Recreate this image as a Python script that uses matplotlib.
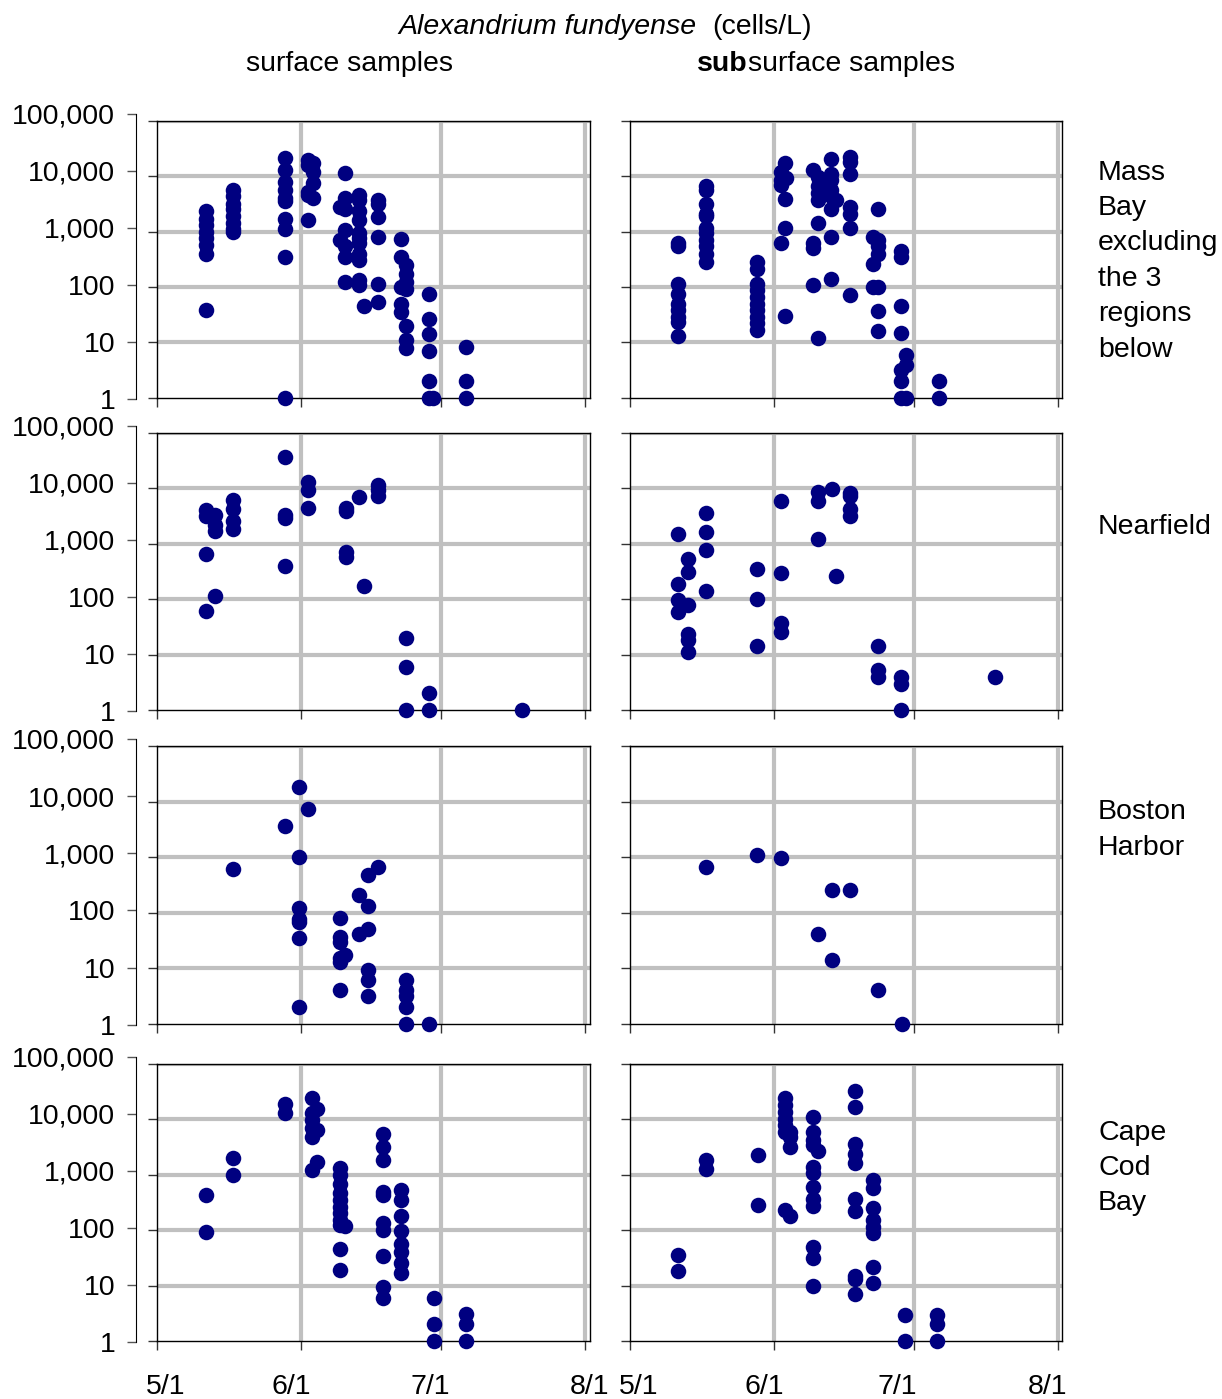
import numpy as np
import matplotlib
matplotlib.use("Agg")
import matplotlib.pyplot as plt
import matplotlib.transforms as mtransforms
from matplotlib.ticker import FixedLocator, NullLocator

plt.rcParams['font.family'] = ['Liberation Sans', 'DejaVu Sans']

# days after 5/1 for each sampling date, and cells/L for the samples taken that day
MB_SURF_DAYS = [10.5, 16.3, 27.5, 32.5, 33.5, 39.4, 40.4, 43.4, 44.4, 47.5, 52.5, 53.5, 58.5, 59.3, 66.5]
MB_SURF = [
    [2300, 1700, 1300, 1000, 760, 580, 400, 38],
    [5600, 4300, 3200, 2500, 1900, 1400, 1100, 1000],
    [21000, 13000, 7900, 5600, 4000, 3500, 1700, 1100, 350, 1],
    [19500, 16000, 5200, 4600, 1600],
    [17000, 12000, 7400, 4000],
    [2800, 710],
    [11500, 4000, 2600, 1070, 540, 350, 123],
    [4600, 3700, 2300, 1600, 930, 760, 620, 400, 300, 132, 107],
    [45],
    [3700, 3200, 1800, 780, 112, 54],
    [720, 350, 100, 50, 35],
    [245, 174, 123, 93, 20, 11, 7.8],
    [74, 26, 14, 7.1, 2, 1],
    [1],
    [8.1, 2, 1],
]

MB_SUB_DAYS = [10.4, 16.3, 27.3, 32.4, 33.3, 33.6, 39.4, 40.4, 43.3, 44.4, 47.4, 52.3, 53.3, 58.3, 59.4, 66.4]
MB_SUB = [
    [620, 540, 115, 76, 50, 38, 29, 23, 13],
    [6600, 5600, 3200, 2100, 1900, 1150, 930, 710, 540, 400, 280],
    [280, 210, 115, 87, 66, 50, 38, 29, 22, 17],
    [12000, 8500, 6900, 630],
    [17000, 3800, 1170, 30],
    [9100],
    [13000, 620, 500, 107],
    [9800, 6500, 4900, 3700, 1450, 12],
    [20000, 11000, 8500, 5600, 4300, 2600, 810, 141],
    [3700],
    [22000, 18000, 11000, 2800, 2100, 1170, 71],
    [810, 260, 98],
    [2600, 710, 540, 400, 98, 37, 16],
    [440, 340, 46, 15, 3.2, 2, 1],
    [6, 3.9, 1],
    [2, 1],
]

NF_SURF_DAYS = [10.5, 12.4, 16.3, 27.5, 32.5, 40.5, 43.4, 44.4, 47.5, 53.5, 58.5, 78.5]
NF_SURF = [
    [4100, 3100, 660, 60],
    [3300, 2200, 1700, 115],
    [6200, 4200, 2600, 1800],
    [37000, 3300, 2900, 400],
    [13000, 9300, 4400],
    [4400, 3800, 710, 580],
    [6800],
    [174],
    [11500, 9300, 7200],
    [20, 6, 1],
    [2, 1],
    [1],
]

NF_SUB_DAYS = [10.3, 12.5, 16.4, 27.4, 32.5, 40.4, 43.4, 44.4, 47.4, 53.3, 58.3, 78.5]
NF_SUB = [
    [1500, 186, 95, 58],
    [520, 310, 79, 23, 18, 11],
    [3600, 1600, 760, 141],
    [350, 100, 14],
    [5800, 290, 37, 26],
    [8700, 5900, 1230],
    [9500],
    [260],
    [8100, 7100, 4200, 3200],
    [14, 5.2, 4],
    [4, 3, 1],
    [4],
]

BH_SURF_DAYS = [16.3, 27.5, 30.5, 32.5, 39.4, 40.4, 43.4, 45.4, 47.5, 53.5, 58.5]
BH_SURF = [
    [620],
    [3700],
    [18600, 1000, 123, 76, 69, 35, 2],
    [7200],
    [81, 37, 29, 15, 13, 4],
    [17],
    [210, 41],
    [480, 129, 50, 9.3, 6.2, 3.1],
    [650],
    [6.2, 4.1, 3.1, 2, 1],
    [1],
]

BH_SUB_DAYS = [16.4, 27.4, 32.5, 40.4, 43.4, 47.4, 53.3, 58.5]
BH_SUB = [
    [650],
    [1100],
    [980],
    [41],
    [260, 14],
    [260],
    [4.1],
    [1],
]

CCB_SURF_DAYS = [10.5, 16.3, 27.5, 33.3, 34.4, 39.4, 40.4, 48.5, 52.5, 59.6, 66.5]
CCB_SURF = [
    [430, 93],
    [2000, 980],
    [18600, 13000],
    [24500, 13000, 9500, 6800, 4700, 1200],
    [15500, 6300, 1700],
    [1300, 980, 690, 460, 350, 260, 200, 151, 123, 45, 19],
    [117],
    [5500, 3200, 1800, 490, 430, 135, 102, 34, 9.3, 5.9],
    [520, 350, 178, 95, 55, 41, 25, 17],
    [5.9, 2, 1],
    [3.1, 2, 1],
]

CCB_SUB_DAYS = [10.3, 16.3, 27.5, 33.4, 34.4, 39.4, 40.4, 48.3, 52.3, 59.2, 66.1]
CCB_SUB = [
    [35, 18],
    [1800, 1260],
    [2300, 280],
    [24000, 17800, 13500, 10200, 7800, 5900, 230],
    [5900, 4700, 3100, 182],
    [11000, 5900, 4200, 3400, 1380, 1050, 590, 370, 270, 50, 32, 10],
    [2700],
    [32000, 16600, 3600, 2400, 1600, 370, 220, 15, 13, 7.1],
    [790, 580, 245, 151, 115, 89, 22, 11],
    [3, 1],
    [3, 2, 1],
]

REGIONS = ["Mass\nBay\nexcluding\nthe 3\nregions\nbelow", "Nearfield", "Boston\nHarbor", "Cape\nCod\nBay"]
REGION_Y = [0.8134, 0.6233, 0.4067, 0.1651]
PANELS = [
    [(MB_SURF_DAYS, MB_SURF), (MB_SUB_DAYS, MB_SUB)],
    [(NF_SURF_DAYS, NF_SURF), (NF_SUB_DAYS, NF_SUB)],
    [(BH_SURF_DAYS, BH_SURF), (BH_SUB_DAYS, BH_SUB)],
    [(CCB_SURF_DAYS, CCB_SURF), (CCB_SUB_DAYS, CCB_SUB)],
]

DATE_TICKS = [0, 31, 61, 92]
DATE_LABELS = ["5/1", "6/1", "7/1", "8/1"]
Y_TICKS = [1, 10, 100, 1000, 10000, 100000]
Y_LABELS = ["1", "10", "100", "1,000", "10,000", "100,000"]

NAVY = "#000080"
GRID = "#c0c0c0"
FS = 20.5

W, H = 1222, 1399
fig = plt.figure(figsize=(W / 100, H / 100), dpi=100)

row_px = [(120.7, 397.7), (432.7, 710.0), (746.0, 1023.7), (1063.7, 1341.0)]
col_px = [157.3, 630.0]
width_px = 432.3
# the date labels sit a little off their ticks, as in the original (pixels)
label_shift = [[8, -10, -11, 5], [9, -10, -16, -10]]


def flatten(days, groups):
    xs, ys = [], []
    for d, vals in zip(days, groups):
        xs += [d] * len(vals)
        ys += vals
    return np.array(xs), np.array(ys)


for r, (top, bot) in enumerate(row_px):
    for c in range(2):
        x0 = col_px[c] / W
        ax = fig.add_axes([x0, 1 - bot / H, width_px / W, (bot - top) / H])
        ax.set_yscale('log')
        ax.set_ylim(1, 100000)
        ax.set_xlim(0, 93)
        for v in Y_TICKS[1:]:
            ax.axhline(v, color=GRID, lw=3, zorder=1)
        for d in DATE_TICKS[1:]:
            ax.axvline(d, color=GRID, lw=3, zorder=1)

        days, groups = PANELS[r][c]
        x, y = flatten(days, groups)
        ax.scatter(x, y, s=125, c=NAVY, linewidths=0, zorder=4, clip_on=False)

        ax.yaxis.set_major_locator(FixedLocator(Y_TICKS))
        ax.yaxis.set_minor_locator(NullLocator())
        ax.set_yticklabels([])
        ax.set_xticks(DATE_TICKS)
        ax.tick_params(axis='both', direction='out', length=6.5, width=1, color='#333333', pad=17)
        if r == 3:
            ax.set_xticklabels(DATE_LABELS, fontsize=FS)
            for lbl, dx in zip(ax.get_xticklabels(), label_shift[c]):
                lbl.set_transform(lbl.get_transform() +
                                  mtransforms.ScaledTranslation(dx / 100, 0, fig.dpi_scale_trans))
        else:
            ax.set_xticklabels([])
        for s in ax.spines.values():
            s.set_color('black')
            s.set_linewidth(1)
            s.set_zorder(3)

        if c == 0:
            # separate outer axis carrying the value labels
            lab = fig.add_axes([136 / W, 1 - (bot + 1) / H, 0.0005, (bot + 1 - top + 7) / H])
            lab.set_yscale('log')
            lab.set_ylim(1, 100000)
            lab.patch.set_alpha(0)
            for k in ['top', 'right', 'bottom']:
                lab.spines[k].set_visible(False)
            lab.spines['left'].set_color('black')
            lab.set_xticks([])
            lab.yaxis.set_major_locator(FixedLocator(Y_TICKS))
            lab.yaxis.set_minor_locator(NullLocator())
            lab.set_yticklabels(Y_LABELS, fontsize=FS)
            lab.tick_params(axis='y', direction='out', length=6.5, width=1, color='#555555', pad=8.4)

    fig.text(1098 / W, REGION_Y[r], REGIONS[r], fontsize=FS, ha='left', va='center', linespacing=1.47)

fig.text(697 / W, 1 - 27 / H, "Alexandrium fundyense", fontsize=FS, style='italic', ha='right', va='center')
fig.text(712 / W, 1 - 27 / H, "(cells/L)", fontsize=FS, ha='left', va='center')
fig.text(350 / W, 1 - 64 / H, "surface samples", fontsize=FS, ha='center', va='center')
fig.text(748 / W, 1 - 64 / H, "sub", fontsize=FS, weight='bold', ha='right', va='center')
fig.text(748 / W, 1 - 64 / H, "surface samples", fontsize=FS, ha='left', va='center')

fig.savefig("out.png", dpi=100)
